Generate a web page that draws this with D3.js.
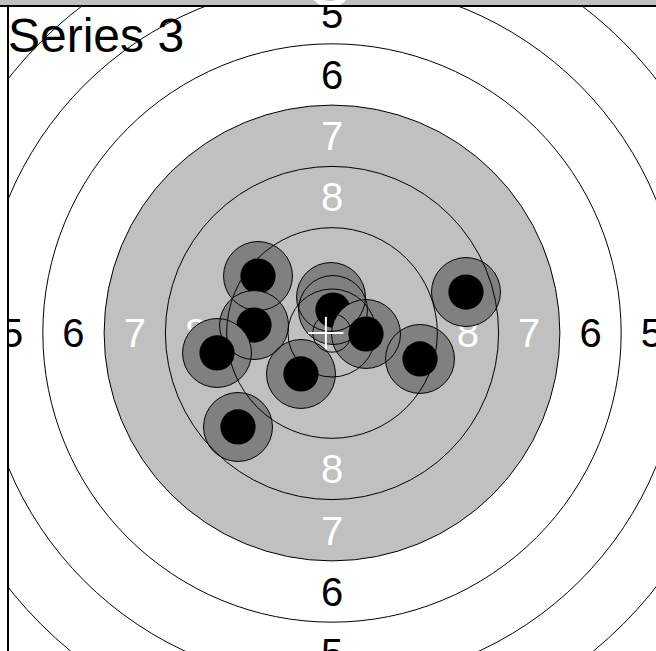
<!DOCTYPE html>
<html>
<head>
<meta charset="utf-8">
<script src="https://cdn.jsdelivr.net/npm/d3@7"></script>
<style>
    html, body { margin: 0; padding: 0; background: #ffffff; }
    svg { display: block; font-family: "Liberation Sans", Arial, sans-serif; }
</style>
</head>
<body>
<div id="target"></div>
<script>
// Ring numbers and their radius in mm (air pistol target)
const ringNumbers = [1, 2, 3, 4, 5, 6, 7, 8, 9, 10];
const ringRadii = [77.75, 69.75, 61.75, 53.75, 45.75, 37.75, 29.75, 21.75, 13.75, 5.75];
const innerTenRadius = 2.5;
const blackRing = 7;                 // aiming mark goes up to ring 7
const labelRings = [5, 6, 7, 8];

// Shots of the series, mm from the centre (y up)
const shotX = [-0.13, -9.66, -10.18, -15.01, -4.05, -12.27, 0.13, 4.44, 11.49, 17.49];
const shotY = [4.70, 7.44, 1.04, -2.61, -5.35, -12.27, 3.00, -0.13, -3.39, 5.35];
const shotRadius = 4.5;
const holeRadius = 2.3;

// group centre marker
const groupCentre = [-0.8, 0];

const title = 'Series 3';

/*
    Draw the target
*/
const width = 656;
const height = 651;
const center = { x: 332, y: 333 };
const pxPerMm = 7.66;

const svg = d3.select('#target')
    .append('svg')
    .attr('width', width)
    .attr('height', height);

// strip of the panel above
svg.append('rect')
    .attr('x', 0).attr('y', 0)
    .attr('width', width).attr('height', 5)
    .attr('fill', '#c0c0c0');

svg.append('ellipse')
    .attr('cx', 330).attr('cy', -6)
    .attr('rx', 15).attr('ry', 10)
    .attr('fill', 'none')
    .attr('stroke', '#ffffff')
    .attr('stroke-width', 6)
    .attr('clip-path', 'url(#topClip)');

const defs = svg.append('defs');
defs.append('clipPath').attr('id', 'topClip')
    .append('rect').attr('x', 0).attr('y', 0).attr('width', width).attr('height', 5);
defs.append('clipPath').attr('id', 'plotClip')
    .append('rect').attr('x', 8).attr('y', 6).attr('width', width).attr('height', height);

const xScale = d3.scaleLinear()
    .domain([-50, 50])
    .range([center.x - 50 * pxPerMm, center.x + 50 * pxPerMm]);

const yScale = d3.scaleLinear()
    .domain([-50, 50])
    .range([center.y + 50 * pxPerMm, center.y - 50 * pxPerMm]);

const rScale = d3.scaleLinear()
    .domain([0, 50])
    .range([0, 50 * pxPerMm]);

const bounds = svg.append('g')
    .attr('clip-path', 'url(#plotClip)');

const rings = ringNumbers.map((n, i) => ({ n, r: ringRadii[i] }));
const radiusOf = n => rings.find(d => d.n === n).r;

// aiming mark
bounds.append('circle')
    .attr('cx', xScale(0))
    .attr('cy', yScale(0))
    .attr('r', rScale(radiusOf(blackRing)))
    .attr('fill', '#c0c0c0');

// ring numbers on the four axes
const labels = [];
labelRings.forEach(n => {
    const mid = (radiusOf(n) + radiusOf(n + 1)) / 2;
    [[1, 0], [-1, 0], [0, 1], [0, -1]].forEach(([dx, dy]) => {
        labels.push({ n, x: dx * mid, y: dy * mid });
    });
});

bounds.selectAll('text.ring-label')
    .data(labels)
    .join('text')
    .attr('class', 'ring-label')
    .attr('x', d => xScale(d.x))
    .attr('y', d => yScale(d.y))
    .attr('dy', '0.36em')
    .attr('text-anchor', 'middle')
    .attr('font-size', 40)
    .attr('fill', d => d.n >= blackRing ? '#ffffff' : '#000000')
    .text(d => d.n);

// shots: fill and hole, in order
const shots = shotX.map((x, i) => ({ x, y: shotY[i] }));

const shotG = bounds.selectAll('g.shot')
    .data(shots)
    .join('g')
    .attr('class', 'shot');

shotG.append('circle')
    .attr('cx', d => xScale(d.x))
    .attr('cy', d => yScale(d.y))
    .attr('r', rScale(shotRadius))
    .attr('fill', '#808080');

shotG.append('circle')
    .attr('cx', d => xScale(d.x))
    .attr('cy', d => yScale(d.y))
    .attr('r', rScale(holeRadius))
    .attr('fill', '#000000');

// rings on top
bounds.selectAll('circle.ring')
    .data(rings)
    .join('circle')
    .attr('class', 'ring')
    .attr('cx', xScale(0))
    .attr('cy', yScale(0))
    .attr('r', d => rScale(d.r))
    .attr('fill', 'none')
    .attr('stroke', '#000000')
    .attr('stroke-width', 1);

bounds.append('circle')
    .attr('cx', xScale(0))
    .attr('cy', yScale(0))
    .attr('r', rScale(innerTenRadius))
    .attr('fill', 'none')
    .attr('stroke', '#000000');

// shot outlines
bounds.selectAll('circle.shot-outline')
    .data(shots)
    .join('circle')
    .attr('class', 'shot-outline')
    .attr('cx', d => xScale(d.x))
    .attr('cy', d => yScale(d.y))
    .attr('r', rScale(shotRadius))
    .attr('fill', 'none')
    .attr('stroke', '#000000')
    .attr('stroke-width', 1);

// group centre cross
const cross = bounds.append('g')
    .attr('stroke', '#ffffff')
    .attr('stroke-width', 2);
cross.append('line')
    .attr('x1', xScale(groupCentre[0] - 2.3)).attr('x2', xScale(groupCentre[0] + 2.3))
    .attr('y1', yScale(groupCentre[1])).attr('y2', yScale(groupCentre[1]));
cross.append('line')
    .attr('x1', xScale(groupCentre[0])).attr('x2', xScale(groupCentre[0]))
    .attr('y1', yScale(groupCentre[1] - 2.1)).attr('y2', yScale(groupCentre[1] + 2.1));

// frame
svg.append('line')
    .attr('x1', 0).attr('x2', width)
    .attr('y1', 6).attr('y2', 6)
    .attr('stroke', '#000000').attr('stroke-width', 2);
svg.append('line')
    .attr('x1', 8).attr('x2', 8)
    .attr('y1', 5).attr('y2', height)
    .attr('stroke', '#000000').attr('stroke-width', 2);

svg.append('text')
    .attr('x', 8)
    .attr('y', 52)
    .attr('font-size', 48)
    .attr('fill', '#000000')
    .text(title);
</script>
</body>
</html>
